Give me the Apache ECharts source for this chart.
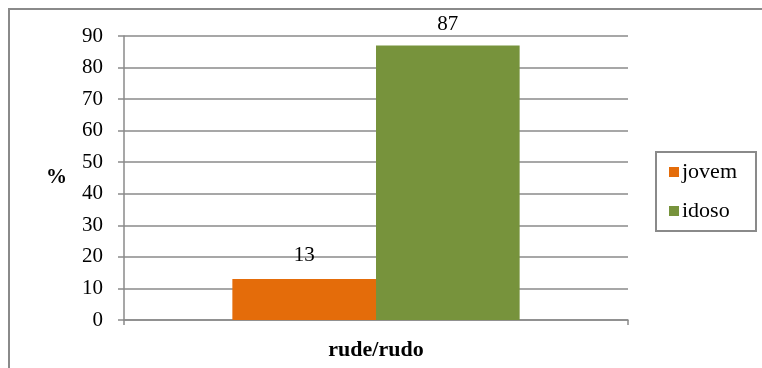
<!DOCTYPE html>
<html>
<head>
<meta charset="utf-8">
<script src="https://cdn.jsdelivr.net/npm/echarts@6/dist/echarts.min.js"></script>
<style>
  html, body { margin: 0; padding: 0; background: #fff; }
  #chart { width: 762px; height: 368px; }
</style>
</head>
<body>
<div id="chart"></div>
<script>
var categories = ['rude/rudo'];
var seriesNames = ['jovem', 'idoso'];
var jovemValues = [13];
var idosoValues = [87];

var serif = '"Liberation Serif", "DejaVu Serif", serif';
var gray = '#8a8a8a';

var chart = echarts.init(document.getElementById('chart'));

var option = {
  backgroundColor: '#fff',
  animation: false,
  textStyle: { fontFamily: serif },
  graphic: [
    {
      type: 'rect',
      shape: { x: 9, y: 9, width: 800, height: 400 },
      style: { fill: 'none', stroke: gray, lineWidth: 2 },
      silent: true
    }
  ],
  grid: { left: 124, right: 134, top: 36, bottom: 48 },
  legend: {
    orient: 'vertical',
    left: 656,
    top: 152,
    padding: [8, 19, 8, 13],
    itemGap: 15,
    itemWidth: 10,
    itemHeight: 10,
    icon: 'rect',
    borderColor: gray,
    borderWidth: 2,
    textStyle: { fontFamily: serif, fontSize: 22, lineHeight: 24, color: '#000', padding: [0, 0, 0, -2] },
    data: seriesNames
  },
  xAxis: {
    type: 'category',
    data: categories,
    axisLine: { lineStyle: { color: gray, width: 1.5 } },
    axisTick: { show: true, length: 5, lineStyle: { color: gray, width: 1.5 } },
    axisLabel: { margin: 19, fontFamily: serif, fontSize: 22, fontWeight: 'bold', color: '#000' }
  },
  yAxis: {
    type: 'value',
    min: 0,
    max: 90,
    interval: 10,
    name: '%',
    nameLocation: 'middle',
    nameRotate: 0,
    nameGap: 57,
    nameTextStyle: { fontFamily: serif, fontSize: 21, fontWeight: 'bold', color: '#000' },
    axisLine: { show: true, lineStyle: { color: gray, width: 1.5 } },
    axisTick: { show: true, length: 6, lineStyle: { color: gray, width: 1.5 } },
    axisLabel: { margin: 21, fontFamily: serif, fontSize: 21, color: '#000' },
    splitLine: { lineStyle: { color: gray, width: 1.5 } }
  },
  series: [
    {
      name: seriesNames[0],
      type: 'bar',
      data: jovemValues,
      barGap: '0%',
      barCategoryGap: '43%',
      itemStyle: { color: '#E46C0A' },
      label: { show: true, position: 'top', distance: 13, fontFamily: serif, fontSize: 21, color: '#000' }
    },
    {
      name: seriesNames[1],
      type: 'bar',
      data: idosoValues,
      barGap: '0%',
      barCategoryGap: '43%',
      itemStyle: { color: '#77933C' },
      label: { show: true, position: 'top', distance: 10, fontFamily: serif, fontSize: 21, color: '#000' }
    }
  ]
};

option && chart.setOption(option);
</script>
</body>
</html>
